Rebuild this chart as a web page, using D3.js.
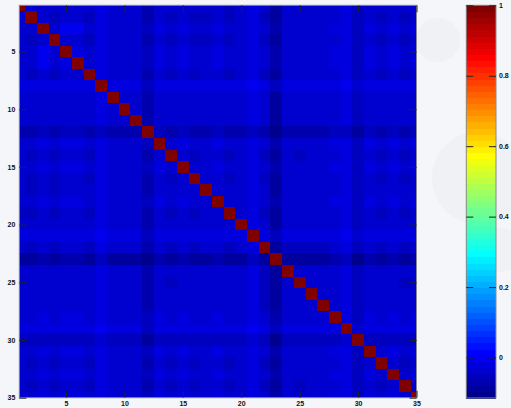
<!DOCTYPE html>
<html lang="en">
<head>
    <meta charset="UTF-8">
    <title>corr</title>
    <script src="https://cdn.jsdelivr.net/npm/d3@7"></script>
    <style>
        body { margin: 0; background: #f4f6f9; }
    </style>
</head>
<body>
<svg width="511" height="408" id="my-svg"></svg>
<script>
    // variables 1..35
    const labels = d3.range(1, 36);
    const ticks = [5, 10, 15, 20, 25, 30, 35];
    const barTicks = [0, 0.2, 0.4, 0.6, 0.8, 1];

    // correlation matrix
    const corr = [
        [1,-.040,-.031,-.040,-.031,-.031,-.040,-.020,-.036,-.036,-.036,-.066,-.031,-.040,-.031,-.040,-.036,-.031,-.050,-.036,-.020,-.040,-.082,-.036,-.036,-.036,-.036,-.031,-.020,-.056,-.031,-.040,-.031,-.040,-.031],
        [-.040,1,-.035,-.050,-.035,-.035,-.050,-.024,-.040,-.040,-.040,-.074,-.035,-.050,-.035,-.055,-.046,-.035,-.055,-.040,-.024,-.050,-.088,-.040,-.040,-.040,-.040,-.035,-.024,-.062,-.035,-.050,-.035,-.050,-.035],
        [-.031,-.035,1,-.035,-.004,-.004,-.035,-.016,-.031,-.031,-.031,-.058,-.016,-.035,-.016,-.035,-.031,-.016,-.035,-.031,-.016,-.035,-.070,-.031,-.031,-.031,-.031,-.016,-.016,-.050,-.016,-.035,-.016,-.035,-.016],
        [-.040,-.050,-.035,1,-.035,-.035,-.050,-.024,-.040,-.040,-.040,-.074,-.035,-.050,-.035,-.055,-.046,-.035,-.050,-.040,-.024,-.050,-.088,-.040,-.040,-.040,-.040,-.035,-.024,-.062,-.035,-.050,-.035,-.050,-.035],
        [-.031,-.035,-.004,-.035,1,-.016,-.035,-.016,-.031,-.031,-.031,-.058,-.016,-.035,-.016,-.035,-.031,-.016,-.035,-.031,-.016,-.035,-.070,-.031,-.031,-.031,-.031,-.016,-.016,-.050,-.016,-.035,-.016,-.035,-.016],
        [-.031,-.035,-.004,-.035,-.016,1,-.035,-.016,-.031,-.031,-.031,-.058,-.016,-.035,-.016,-.035,-.031,-.016,-.035,-.031,-.016,-.035,-.070,-.031,-.031,-.031,-.031,-.016,-.016,-.050,-.016,-.035,-.016,-.035,-.016],
        [-.040,-.050,-.035,-.050,-.035,-.035,1,-.024,-.040,-.040,-.040,-.074,-.035,-.058,-.035,-.050,-.040,-.035,-.050,-.040,-.024,-.050,-.088,-.040,-.040,-.040,-.040,-.035,-.024,-.062,-.035,-.050,-.035,-.050,-.035],
        [-.020,-.024,-.016,-.024,-.016,-.016,-.024,1,-.020,-.020,-.020,-.048,-.016,-.024,-.016,-.024,-.020,-.016,-.024,-.020,-.004,-.024,-.060,-.020,-.020,-.020,-.020,-.016,-.004,-.040,-.016,-.024,-.016,-.024,-.016],
        [-.036,-.040,-.031,-.040,-.031,-.031,-.040,-.020,1,-.036,-.036,-.066,-.031,-.040,-.031,-.040,-.036,-.031,-.040,-.036,-.020,-.040,-.082,-.036,-.036,-.036,-.036,-.031,-.020,-.056,-.031,-.040,-.031,-.040,-.031],
        [-.036,-.040,-.031,-.040,-.031,-.031,-.040,-.020,-.036,1,-.036,-.066,-.031,-.040,-.031,-.040,-.036,-.031,-.040,-.036,-.020,-.040,-.082,-.036,-.036,-.036,-.036,-.031,-.020,-.056,-.031,-.040,-.031,-.040,-.031],
        [-.036,-.040,-.031,-.040,-.031,-.031,-.040,-.020,-.036,-.036,1,-.066,-.031,-.040,-.031,-.040,-.036,-.031,-.040,-.036,-.020,-.040,-.082,-.036,-.036,-.036,-.036,-.031,-.020,-.056,-.031,-.040,-.031,-.040,-.031],
        [-.066,-.074,-.058,-.074,-.058,-.058,-.074,-.048,-.066,-.066,-.066,1,-.058,-.074,-.058,-.074,-.066,-.058,-.074,-.066,-.048,-.074,-.115,-.066,-.066,-.066,-.066,-.058,-.048,-.094,-.058,-.074,-.058,-.074,-.058],
        [-.031,-.035,-.016,-.035,-.016,-.016,-.035,-.016,-.031,-.031,-.031,-.058,1,-.035,-.016,-.035,-.031,-.016,-.035,-.031,-.016,-.035,-.070,-.031,-.031,-.031,-.031,-.016,-.016,-.050,-.016,-.035,-.016,-.035,-.016],
        [-.040,-.050,-.035,-.050,-.035,-.035,-.058,-.024,-.040,-.040,-.040,-.074,-.035,1,-.035,-.050,-.040,-.035,-.050,-.040,-.024,-.050,-.088,-.040,-.062,-.040,-.040,-.035,-.024,-.062,-.035,-.050,-.035,-.050,-.035],
        [-.031,-.035,-.016,-.035,-.016,-.016,-.035,-.016,-.031,-.031,-.031,-.058,-.016,-.035,1,-.035,-.031,-.016,-.035,-.031,-.016,-.035,-.070,-.031,-.031,-.031,-.031,-.016,-.016,-.050,-.016,-.035,-.016,-.035,-.016],
        [-.040,-.055,-.035,-.055,-.035,-.035,-.050,-.024,-.040,-.040,-.040,-.074,-.035,-.050,-.035,1,-.040,-.035,-.050,-.040,-.024,-.050,-.088,-.040,-.040,-.040,-.040,-.035,-.024,-.062,-.035,-.050,-.035,-.050,-.035],
        [-.036,-.046,-.031,-.046,-.031,-.031,-.040,-.020,-.036,-.036,-.036,-.066,-.031,-.040,-.031,-.040,1,-.031,-.040,-.036,-.020,-.040,-.082,-.036,-.036,-.036,-.036,-.031,-.020,-.056,-.031,-.040,-.031,-.040,-.031],
        [-.031,-.035,-.016,-.035,-.016,-.016,-.035,-.016,-.031,-.031,-.031,-.058,-.016,-.035,-.016,-.035,-.031,1,-.035,-.031,-.016,-.035,-.070,-.031,-.031,-.031,-.031,-.016,-.016,-.050,-.016,-.035,-.016,-.035,-.016],
        [-.050,-.055,-.035,-.050,-.035,-.035,-.050,-.024,-.040,-.040,-.040,-.074,-.035,-.050,-.035,-.050,-.040,-.035,1,-.040,-.024,-.050,-.088,-.040,-.040,-.040,-.040,-.035,-.024,-.062,-.035,-.050,-.035,-.050,-.035],
        [-.036,-.040,-.031,-.040,-.031,-.031,-.040,-.020,-.036,-.036,-.036,-.066,-.031,-.040,-.031,-.040,-.036,-.031,-.040,1,-.020,-.040,-.082,-.036,-.036,-.036,-.036,-.031,-.020,-.056,-.031,-.040,-.031,-.040,-.031],
        [-.020,-.024,-.016,-.024,-.016,-.016,-.024,-.004,-.020,-.020,-.020,-.048,-.016,-.024,-.016,-.024,-.020,-.016,-.024,-.020,1,-.024,-.060,-.020,-.020,-.020,-.020,-.016,-.004,-.040,-.016,-.024,-.016,-.024,-.016],
        [-.040,-.050,-.035,-.050,-.035,-.035,-.050,-.024,-.040,-.040,-.040,-.074,-.035,-.050,-.035,-.050,-.040,-.035,-.050,-.040,-.024,1,-.088,-.048,-.048,-.048,-.048,-.035,-.024,-.062,-.035,-.050,-.035,-.050,-.035],
        [-.082,-.088,-.070,-.088,-.070,-.070,-.088,-.060,-.082,-.082,-.082,-.115,-.070,-.088,-.070,-.088,-.082,-.070,-.088,-.082,-.060,-.088,1,-.082,-.082,-.082,-.082,-.070,-.060,-.104,-.070,-.088,-.070,-.088,-.070],
        [-.036,-.040,-.031,-.040,-.031,-.031,-.040,-.020,-.036,-.036,-.036,-.066,-.031,-.040,-.031,-.040,-.036,-.031,-.040,-.036,-.020,-.048,-.082,1,-.036,-.036,-.036,-.031,-.020,-.056,-.031,-.040,-.031,-.040,-.031],
        [-.036,-.040,-.031,-.040,-.031,-.031,-.040,-.020,-.036,-.036,-.036,-.066,-.031,-.062,-.031,-.040,-.036,-.031,-.040,-.036,-.020,-.048,-.082,-.036,1,-.036,-.036,-.031,-.020,-.056,-.031,-.040,-.031,-.056,-.031],
        [-.036,-.040,-.031,-.040,-.031,-.031,-.040,-.020,-.036,-.036,-.036,-.066,-.031,-.040,-.031,-.040,-.036,-.031,-.040,-.036,-.020,-.048,-.082,-.036,-.036,1,-.036,-.031,-.020,-.056,-.031,-.040,-.031,-.040,-.031],
        [-.036,-.040,-.031,-.040,-.031,-.031,-.040,-.020,-.036,-.036,-.036,-.066,-.031,-.040,-.031,-.040,-.036,-.031,-.040,-.036,-.020,-.048,-.082,-.036,-.036,-.036,1,-.031,-.020,-.056,-.031,-.040,-.031,-.040,-.031],
        [-.031,-.035,-.016,-.035,-.016,-.016,-.035,-.016,-.031,-.031,-.031,-.058,-.016,-.035,-.016,-.035,-.031,-.016,-.035,-.031,-.016,-.035,-.070,-.031,-.031,-.031,-.031,1,-.016,-.050,-.016,-.035,-.016,-.035,-.016],
        [-.020,-.024,-.016,-.024,-.016,-.016,-.024,-.004,-.020,-.020,-.020,-.048,-.016,-.024,-.016,-.024,-.020,-.016,-.024,-.020,-.004,-.024,-.060,-.020,-.020,-.020,-.020,-.016,1,-.040,-.016,-.024,-.016,-.024,-.016],
        [-.056,-.062,-.050,-.062,-.050,-.050,-.062,-.040,-.056,-.056,-.056,-.094,-.050,-.062,-.050,-.062,-.056,-.050,-.062,-.056,-.040,-.062,-.104,-.056,-.056,-.056,-.056,-.050,-.040,1,-.050,-.062,-.050,-.062,-.050],
        [-.031,-.035,-.016,-.035,-.016,-.016,-.035,-.016,-.031,-.031,-.031,-.058,-.016,-.035,-.016,-.035,-.031,-.016,-.035,-.031,-.016,-.035,-.070,-.031,-.031,-.031,-.031,-.016,-.016,-.050,1,-.035,-.016,-.035,-.016],
        [-.040,-.050,-.035,-.050,-.035,-.035,-.050,-.024,-.040,-.040,-.040,-.074,-.035,-.050,-.035,-.050,-.040,-.035,-.050,-.040,-.024,-.050,-.088,-.040,-.040,-.040,-.040,-.035,-.024,-.062,-.035,1,-.035,-.050,-.035],
        [-.031,-.035,-.016,-.035,-.016,-.016,-.035,-.016,-.031,-.031,-.031,-.058,-.016,-.035,-.016,-.035,-.031,-.016,-.035,-.031,-.016,-.035,-.070,-.031,-.031,-.031,-.031,-.016,-.016,-.050,-.016,-.035,1,-.035,-.016],
        [-.040,-.050,-.035,-.050,-.035,-.035,-.050,-.024,-.040,-.040,-.040,-.074,-.035,-.050,-.035,-.050,-.040,-.035,-.050,-.040,-.024,-.050,-.088,-.040,-.056,-.040,-.040,-.035,-.024,-.062,-.035,-.050,-.035,1,-.035],
        [-.031,-.035,-.016,-.035,-.016,-.016,-.035,-.016,-.031,-.031,-.031,-.058,-.016,-.035,-.016,-.035,-.031,-.016,-.035,-.031,-.016,-.035,-.070,-.031,-.031,-.031,-.031,-.016,-.016,-.050,-.016,-.035,-.016,-.035,1]
    ];

    // matlab jet(64)
    function jet64() {
        const m = 64, n = 16;
        const u = d3.range(1, n + 1).map(i => i / n)
            .concat(d3.range(n - 1).map(() => 1))
            .concat(d3.range(n, 0, -1).map(i => i / n));
        const J = d3.range(m).map(() => [0, 0, 0]);
        u.forEach((val, i) => {
            const g = 8 + i, r = g + n, b = g - n; // 0-based rows
            if (r >= 0 && r < m) J[r][0] = val;
            if (g >= 0 && g < m) J[g][1] = val;
            if (b >= 0 && b < m) J[b][2] = val;
        });
        return J.map(c => d3.rgb(c[0] * 255, c[1] * 255, c[2] * 255).toString());
    }
    const colors = jet64();

    const svg = d3.select("#my-svg");

    // faint background decoration
    svg.append("g").selectAll("circle")
        .data([[478, 178, 46], [438, 40, 22], [500, 250, 22]])
        .join("circle")
        .attr("cx", d => d[0]).attr("cy", d => d[1]).attr("r", d => d[2])
        .attr("fill", "#ebeef2").attr("opacity", 0.6);

    const cells = [];
    corr.forEach((row, i) => row.forEach((v, j) => cells.push({ r: labels[i], c: labels[j], v: v })));
    const extent = d3.extent(cells, d => d.v);
    const color = d3.scaleQuantize().domain(extent).range(colors);

    // heat map
    const pLeft = 19.3, pRight = 416.5, pTop = 5.3, pBottom = 397.7;
    const x = d3.scaleLinear().domain([1, 35]).range([pLeft, pRight]);
    const y = d3.scaleLinear().domain([1, 35]).range([pTop, pBottom]);

    svg.append("clipPath").attr("id", "clip")
        .append("rect").attr("x", pLeft).attr("y", pTop)
        .attr("width", pRight - pLeft).attr("height", pBottom - pTop);

    svg.append("g").attr("clip-path", "url(#clip)")
        .attr("shape-rendering", "crispEdges")
        .selectAll("rect").data(cells).join("rect")
        .attr("x", d => x(d.c - 0.5))
        .attr("y", d => y(d.r - 0.5))
        .attr("width", x(1.5) - x(0.5) + 0.6)
        .attr("height", y(1.5) - y(0.5) + 0.6)
        .attr("fill", d => color(d.v));

    svg.append("rect").attr("x", pLeft).attr("y", pTop)
        .attr("width", pRight - pLeft).attr("height", pBottom - pTop)
        .attr("fill", "none").attr("stroke", "#8a8a8a").attr("stroke-width", 1);

    // ticks, inside, on all four sides
    const tl = 7;
    svg.append("g").attr("transform", `translate(0,${pBottom})`)
        .call(d3.axisBottom(x).tickValues(ticks).tickSize(-tl).tickPadding(3.5))
        .call(g => g.select(".domain").remove());
    svg.append("g").attr("transform", `translate(0,${pTop})`)
        .call(d3.axisTop(x).tickValues(ticks).tickSize(-tl).tickFormat(""))
        .call(g => g.select(".domain").remove());
    svg.append("g").attr("transform", `translate(${pLeft},0)`)
        .call(d3.axisLeft(y).tickValues(ticks).tickSize(-tl).tickPadding(4))
        .call(g => g.select(".domain").remove());
    svg.append("g").attr("transform", `translate(${pRight},0)`)
        .call(d3.axisRight(y).tickValues(ticks).tickSize(-tl).tickFormat(""))
        .call(g => g.select(".domain").remove());

    // colour bar
    const bx0 = 466.3, bx1 = 496, by0 = 5.3, by1 = 398;
    const cb = d3.scaleLinear().domain(extent).range([by1, by0]);
    const step = (extent[1] - extent[0]) / colors.length;
    svg.append("g").attr("shape-rendering", "crispEdges")
        .selectAll("rect").data(colors).join("rect")
        .attr("x", bx0)
        .attr("y", (c, k) => cb(extent[0] + (k + 1) * step))
        .attr("width", bx1 - bx0)
        .attr("height", cb(0) - cb(step) + 0.6)
        .attr("fill", c => c);
    svg.append("rect").attr("x", bx0).attr("y", by0)
        .attr("width", bx1 - bx0).attr("height", by1 - by0)
        .attr("fill", "none").attr("stroke", "#8a8a8a");
    svg.append("g").attr("transform", `translate(${bx1},0)`)
        .call(d3.axisRight(cb).tickValues(barTicks).tickSize(-tl).tickPadding(3).tickFormat(d3.format("")))
        .call(g => g.select(".domain").remove());
    svg.append("g").attr("transform", `translate(${bx0},0)`)
        .call(d3.axisLeft(cb).tickValues(barTicks).tickSize(-tl).tickFormat(""))
        .call(g => g.select(".domain").remove());

    svg.selectAll(".tick line").attr("stroke", "#222");
    svg.selectAll(".tick text")
        .attr("font-size", 7)
        .attr("font-family", "Liberation Sans")
        .attr("font-weight", "bold")
        .attr("fill", "#111");
</script>
</body>
</html>
